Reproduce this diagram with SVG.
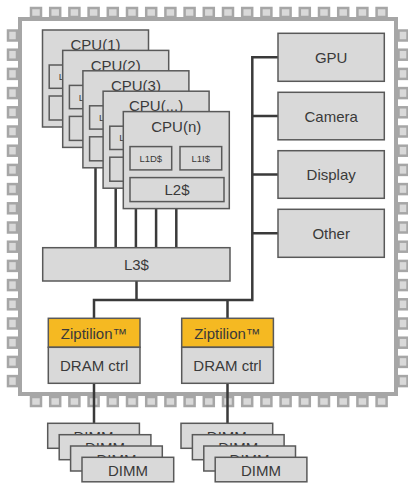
<svg xmlns="http://www.w3.org/2000/svg" width="408" height="483" viewBox="0 0 408 483">
<style>
.box{fill:#d9d9d9;stroke:#595959;stroke-width:1.5}
.zip{fill:#f5b922;stroke:#595959;stroke-width:1.5}
.pin{fill:#d9d9d9;stroke:#a6a6a6;stroke-width:2.5}
.t{font-family:"Liberation Sans",Arial,sans-serif;font-size:15px;fill:#3a3a3a;text-anchor:middle}
.s{font-size:9.5px}
.c{fill:none;stroke:#3a3a3a;stroke-width:2.5}
</style>
<defs>
<rect id="ph" class="pin" x="0" y="0" width="10" height="9"/>
<rect id="pv" class="pin" x="0" y="0" width="9" height="10"/>
<g id="cpuinner">
<rect class="box" x="6.7" y="35" width="41.7" height="23.3"/>
<text class="t s" x="27.5" y="50.3">L1D$</text>
<rect class="box" x="56.7" y="35" width="41.7" height="23.3"/>
<text class="t s" x="77.5" y="50.3">L1I$</text>
<rect class="box" x="6.7" y="66" width="94" height="24"/>
<text class="t" x="53.7" y="83.3">L2$</text>
</g>
</defs>
<g id="chip">
<rect x="20" y="19" width="376" height="375" fill="#fff" stroke="#a6a6a6" stroke-width="4"/>
<g id="pins-top">
<use href="#ph" x="31" y="8"/><use href="#ph" x="50.2" y="8"/><use href="#ph" x="69.4" y="8"/><use href="#ph" x="88.6" y="8"/><use href="#ph" x="107.8" y="8"/><use href="#ph" x="127" y="8"/><use href="#ph" x="146.2" y="8"/><use href="#ph" x="165.4" y="8"/><use href="#ph" x="184.6" y="8"/><use href="#ph" x="203.8" y="8"/><use href="#ph" x="223" y="8"/><use href="#ph" x="242.2" y="8"/><use href="#ph" x="261.4" y="8"/><use href="#ph" x="280.6" y="8"/><use href="#ph" x="299.8" y="8"/><use href="#ph" x="319" y="8"/><use href="#ph" x="338.2" y="8"/><use href="#ph" x="357.4" y="8"/><use href="#ph" x="376.6" y="8"/>
</g>
<g id="pins-bottom">
<use href="#ph" x="31" y="397"/><use href="#ph" x="50.2" y="397"/><use href="#ph" x="69.4" y="397"/><use href="#ph" x="88.6" y="397"/><use href="#ph" x="107.8" y="397"/><use href="#ph" x="127" y="397"/><use href="#ph" x="146.2" y="397"/><use href="#ph" x="165.4" y="397"/><use href="#ph" x="184.6" y="397"/><use href="#ph" x="203.8" y="397"/><use href="#ph" x="223" y="397"/><use href="#ph" x="242.2" y="397"/><use href="#ph" x="261.4" y="397"/><use href="#ph" x="280.6" y="397"/><use href="#ph" x="299.8" y="397"/><use href="#ph" x="319" y="397"/><use href="#ph" x="338.2" y="397"/><use href="#ph" x="357.4" y="397"/><use href="#ph" x="376.6" y="397"/>
</g>
<g id="pins-left">
<use href="#pv" x="8" y="30.5"/><use href="#pv" x="8" y="49.7"/><use href="#pv" x="8" y="68.9"/><use href="#pv" x="8" y="88.1"/><use href="#pv" x="8" y="107.3"/><use href="#pv" x="8" y="126.5"/><use href="#pv" x="8" y="145.7"/><use href="#pv" x="8" y="164.9"/><use href="#pv" x="8" y="184.1"/><use href="#pv" x="8" y="203.3"/><use href="#pv" x="8" y="222.5"/><use href="#pv" x="8" y="241.7"/><use href="#pv" x="8" y="260.9"/><use href="#pv" x="8" y="280.1"/><use href="#pv" x="8" y="299.3"/><use href="#pv" x="8" y="318.5"/><use href="#pv" x="8" y="337.7"/><use href="#pv" x="8" y="356.9"/><use href="#pv" x="8" y="376.1"/>
</g>
<g id="pins-right">
<use href="#pv" x="398.5" y="30.5"/><use href="#pv" x="398.5" y="49.7"/><use href="#pv" x="398.5" y="68.9"/><use href="#pv" x="398.5" y="88.1"/><use href="#pv" x="398.5" y="107.3"/><use href="#pv" x="398.5" y="126.5"/><use href="#pv" x="398.5" y="145.7"/><use href="#pv" x="398.5" y="164.9"/><use href="#pv" x="398.5" y="184.1"/><use href="#pv" x="398.5" y="203.3"/><use href="#pv" x="398.5" y="222.5"/><use href="#pv" x="398.5" y="241.7"/><use href="#pv" x="398.5" y="260.9"/><use href="#pv" x="398.5" y="280.1"/><use href="#pv" x="398.5" y="299.3"/><use href="#pv" x="398.5" y="318.5"/><use href="#pv" x="398.5" y="337.7"/><use href="#pv" x="398.5" y="356.9"/><use href="#pv" x="398.5" y="376.1"/>
</g>
</g>
<g id="connectors">
<path class="c" d="M95.5 127V248M115.7 147V248M135.9 168V248M156.1 188V248M176.3 208V248"/>
<path class="c" d="M136.5 281V300M94 318V300H252.3V57.3H278M252.3 116H278M252.3 174.5H278M252.3 233.3H278M227.5 300V318"/>
<path class="c" d="M94 383V423.5M227.5 383V423.5"/>
</g>
<g id="cpu1" transform="translate(42.5 30)">
<rect class="box" width="106" height="97"/><text class="t" x="53" y="20.3">CPU(1)</text><use href="#cpuinner"/>
</g>
<g id="cpu2" transform="translate(62.7 50.4)">
<rect class="box" width="106" height="97"/><text class="t" x="53" y="20.3">CPU(2)</text><use href="#cpuinner"/>
</g>
<g id="cpu3" transform="translate(82.9 70.8)">
<rect class="box" width="106" height="97"/><text class="t" x="53" y="20.3">CPU(3)</text><use href="#cpuinner"/>
</g>
<g id="cpu4" transform="translate(103.1 91.2)">
<rect class="box" width="106" height="97"/><text class="t" x="53" y="20.3">CPU(...)</text><use href="#cpuinner"/>
</g>
<g id="cpun" transform="translate(123.3 111.6)">
<rect class="box" width="106" height="97"/><text class="t" x="53" y="20.3">CPU(n)</text><use href="#cpuinner"/>
</g>
<g id="l3"><rect class="box" x="42.7" y="247.7" width="187.3" height="33.3"/><text class="t" x="136.4" y="269.8">L3$</text></g>
<g id="gpu"><rect class="box" x="278" y="33.3" width="106.3" height="48"/><text class="t" x="331.2" y="62.8">GPU</text></g>
<g id="camera"><rect class="box" x="278" y="92.3" width="106.3" height="47.5"/><text class="t" x="331.2" y="121.6">Camera</text></g>
<g id="display"><rect class="box" x="278" y="150.7" width="106.3" height="47.6"/><text class="t" x="331.2" y="180">Display</text></g>
<g id="other"><rect class="box" x="278" y="209.3" width="106.3" height="48"/><text class="t" x="331.2" y="238.8">Other</text></g>
<g id="mc1">
<rect class="zip" x="48.3" y="318.3" width="91.7" height="29"/><text class="t" x="94.2" y="338.5">Ziptilion™</text>
<rect class="box" x="48.3" y="347.3" width="91.7" height="36"/><text class="t" x="94.2" y="370.8">DRAM ctrl</text>
</g>
<g id="mc2">
<rect class="zip" x="181.7" y="318.3" width="91.7" height="29"/><text class="t" x="227.5" y="338.5">Ziptilion™</text>
<rect class="box" x="181.7" y="347.3" width="91.7" height="36"/><text class="t" x="227.5" y="370.8">DRAM ctrl</text>
</g>
<g id="dimms1">
<rect class="box" x="47.7" y="423.3" width="91.7" height="25"/><text class="t" x="93.5" y="441.8">DIMM</text>
<rect class="box" x="59.2" y="434.7" width="91.7" height="25"/><text class="t" x="105" y="453.2">DIMM</text>
<rect class="box" x="70.6" y="446" width="91.7" height="25"/><text class="t" x="116.5" y="464.5">DIMM</text>
<rect class="box" x="82" y="457.3" width="91.7" height="24.5"/><text class="t" x="127.9" y="476">DIMM</text>
</g>
<g id="dimms2">
<rect class="box" x="181" y="423.3" width="91.7" height="25"/><text class="t" x="226.8" y="441.8">DIMM</text>
<rect class="box" x="192.4" y="434.7" width="91.7" height="25"/><text class="t" x="238.2" y="453.2">DIMM</text>
<rect class="box" x="203.8" y="446" width="91.7" height="25"/><text class="t" x="249.6" y="464.5">DIMM</text>
<rect class="box" x="215.2" y="457.3" width="91.7" height="24.5"/><text class="t" x="261" y="476">DIMM</text>
</g>
</svg>
